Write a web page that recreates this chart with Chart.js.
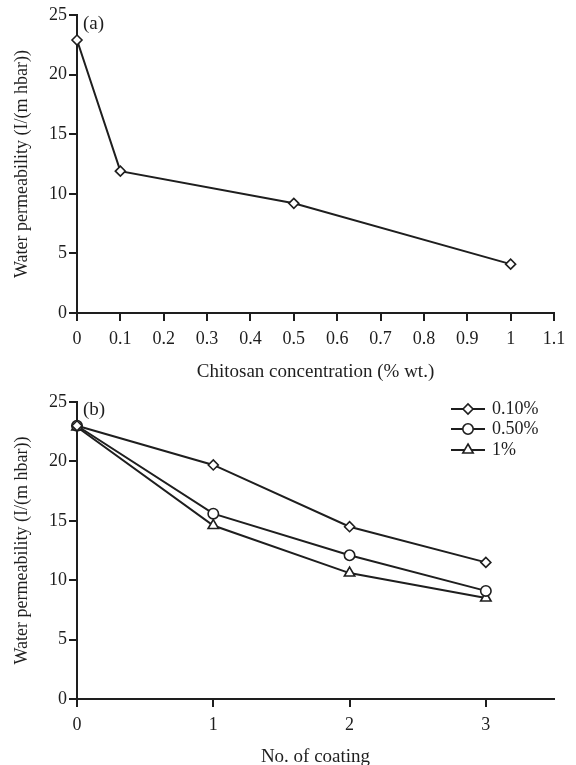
<!DOCTYPE html>
<html>
<head>
<meta charset="utf-8">
<script src="https://cdn.jsdelivr.net/npm/chart.js@4.4.0/dist/chart.umd.min.js"></script>
<style>
    body { margin: 0; background: #fff; }
    canvas { display: block; }
</style>
</head>
<body>
<canvas id="chartA" width="576" height="385"></canvas>
<canvas id="chartB" width="576" height="380"></canvas>
<script>
// Panel (a): permeability vs chitosan concentration
const concA = [0, 0.1, 0.5, 1];
const permA = [22.9, 11.9, 9.2, 4.1];

// Panel (b): permeability vs number of coatings
const coatings = [0, 1, 2, 3];
const perm010 = [23.0, 19.7, 14.5, 11.5];
const perm050 = [23.0, 15.6, 12.1, 9.1];
const perm100 = [22.9, 14.6, 10.6, 8.5];
const seriesLabels = ['0.10%', '0.50%', '1%'];

const yTicks = [0, 5, 10, 15, 20, 25];
const yTitle = 'Water permeability (I/(m hbar))';

const FONT = '"Liberation Serif", "Times New Roman", serif';
const INK = '#1e1e1e';

function toPoints(xs, ys) {
    return xs.map((x, i) => ({ x: x, y: ys[i] }));
}

function markerRadius(style) {
    if (style === 'triangle') return 6;
    if (style === 'circle') return 5.2;
    return 5;
}

function lineDataset(label, xs, ys, style) {
    return {
        label: label,
        data: toPoints(xs, ys),
        borderColor: INK,
        borderWidth: 2,
        pointStyle: style,
        pointRadius: markerRadius(style),
        pointBorderWidth: 1.6,
        pointBorderColor: INK,
        pointBackgroundColor: '#fff',
        tension: 0,
        clip: false
    };
}

function yScale() {
    return {
        min: 0,
        max: 25,
        afterFit: s => { s.width = 77; },
        afterBuildTicks: s => { s.ticks = yTicks.map(v => ({ value: v })); },
        border: { display: true, color: INK, width: 2 },
        grid: { drawOnChartArea: false, drawTicks: true, tickLength: 8, color: INK, lineWidth: 2 },
        ticks: { color: INK, padding: 2, font: { family: FONT, size: 18 } },
        title: {
            display: true,
            text: yTitle,
            color: INK,
            font: { family: FONT, size: 18 },
            padding: { top: 11, bottom: 0 }
        }
    };
}

function xTicks(step) {
    return {
        stepSize: step,
        color: INK,
        padding: 7,
        maxRotation: 0,
        includeBounds: false,
        font: { family: FONT, size: 18 },
        callback: v => String(Number(v.toFixed(1)))
    };
}

function xScale(min, max, step, height, text, titlePad) {
    return {
        type: 'linear',
        bounds: 'data',
        min: min,
        max: max,
        afterFit: s => { s.height = height; },
        border: { display: true, color: INK, width: 2 },
        grid: { drawOnChartArea: false, drawTicks: true, tickLength: 8, color: INK, lineWidth: 2 },
        ticks: xTicks(step),
        title: {
            display: true,
            text: text,
            color: INK,
            font: { family: FONT, size: 19, lineHeight: 1 },
            padding: { top: 0, bottom: titlePad }
        }
    };
}

// panel tag + line/marker legend drawn on the canvas
const annotations = {
    id: 'annotations',
    afterDraw(chart, args, opts) {
        const ctx = chart.ctx;
        ctx.save();
        ctx.fillStyle = INK;
        ctx.font = '19px ' + FONT;
        ctx.textBaseline = 'middle';
        ctx.textAlign = 'left';
        ctx.fillText(opts.tag, 83, opts.tagY);

        if (opts.legend) {
            const lx = 451, lw = 34, ty = [24, 44, 65];
            chart.data.datasets.forEach((ds, i) => {
                const y = ty[i];
                ctx.strokeStyle = INK;
                ctx.lineWidth = 2;
                ctx.beginPath();
                ctx.moveTo(lx, y);
                ctx.lineTo(lx + lw, y);
                ctx.stroke();
                const el = chart.getDatasetMeta(i).data[0];
                ctx.fillStyle = '#fff';
                ctx.lineWidth = 1.6;
                Chart.helpers.drawPoint(ctx, el.options, lx + lw / 2, y);
                ctx.fillStyle = INK;
                ctx.font = '18px ' + FONT;
                ctx.fillText(ds.label, lx + lw + 7, y);
            });
        }
        ctx.restore();
    }
};

new Chart(document.getElementById('chartA'), {
    type: 'line',
    data: {
        datasets: [lineDataset('A', concA, permA, 'rectRot')]
    },
    options: {
        responsive: false,
        animation: false,
        layout: { padding: { top: 15, right: 22, left: 0, bottom: 0 } },
        plugins: {
            legend: { display: false },
            tooltip: { enabled: false },
            annotations: { tag: '(a)', tagY: 24 }
        },
        scales: {
            x: xScale(0, 1.1, 0.1, 72, 'Chitosan concentration (% wt.)', 3),
            y: yScale()
        }
    },
    plugins: [annotations]
});

new Chart(document.getElementById('chartB'), {
    type: 'line',
    data: {
        datasets: [
            lineDataset(seriesLabels[0], coatings, perm010, 'rectRot'),
            lineDataset(seriesLabels[1], coatings, perm050, 'circle'),
            lineDataset(seriesLabels[2], coatings, perm100, 'triangle')
        ]
    },
    options: {
        responsive: false,
        animation: false,
        layout: { padding: { top: 17, right: 22, left: 0, bottom: 0 } },
        plugins: {
            legend: { display: false },
            tooltip: { enabled: false },
            annotations: { tag: '(b)', tagY: 25, legend: true }
        },
        scales: {
            x: xScale(0, 3.5, 1, 66, 'No. of coating', -2),
            y: yScale()
        }
    },
    plugins: [annotations]
});
</script>
</body>
</html>
